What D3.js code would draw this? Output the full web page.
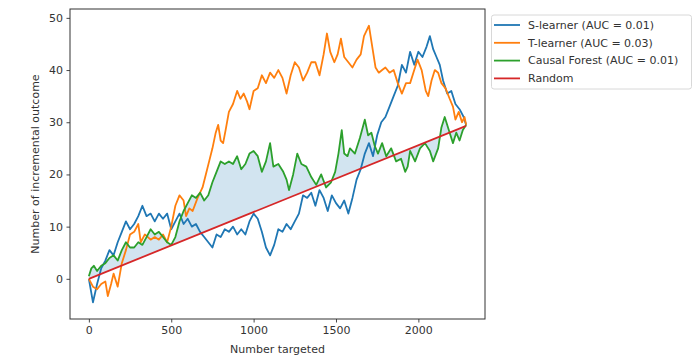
<!DOCTYPE html>
<html><head><meta charset="utf-8">
<script src="https://cdn.jsdelivr.net/npm/d3@7"></script>
<style>
html,body{margin:0;padding:0;background:#fff;}
svg{display:block;font-family:"DejaVu Sans",sans-serif;}
</style></head>
<body>
<svg id="chart" width="697" height="356"></svg>
<script>
// ---- data ----
const seriesNames = ["S-learner (AUC = 0.01)", "T-learner (AUC = 0.03)", "Causal Forest (AUC = 0.01)", "Random"];
const seriesColors = ["#1f77b4", "#ff7f0e", "#2ca02c", "#d62728"];

const sX = [0,25,50,75,100,125,150,175,200,225,250,275,300,325,350,375,400,425,450,475,500,525,550,575,600,625,650,675,700,725,750,775,800,825,850,875,900,925,950,975,1000,1025,1050,1075,1100,1125,1150,1175,1200,1225,1250,1275,1300,1325,1350,1375,1400,1425,1450,1475,1500,1525,1550,1575,1600,1625,1650,1675,1700,1725,1750,1775,1800,1825,1850,1875,1900,1925,1950,1975,2000,2025,2050,2070,2090,2110,2130,2150,2175,2200,2225,2250,2275,2290];
const sY = [0,-4.5,-1,2,3.5,5.5,4.5,7,9,11,9.5,10.5,12,14,12,12.5,11,12.5,11.5,12.5,9.5,11,12.5,10.5,11.5,10,10.5,9,8,7,6,8.5,8,9.5,9,10,8.5,9.5,8.5,11,12.5,11.5,9,6,4.5,6.5,9.5,9,10.5,9.5,11,12.5,16,15.5,16.5,14,17,15.5,13,16,14.5,13.5,15,12.5,15.5,19,21,24,26,23.5,27.5,30,31,33,35,37,41,39.5,43.5,41,43.5,42.5,44.5,46.5,44,42.5,41,38,35.5,36,33.5,32.5,31,29.5];

const tX = [0,25,50,75,100,115,135,150,175,200,225,250,275,300,315,340,375,400,425,450,475,500,525,550,575,590,610,630,660,690,710,730,750,770,785,800,815,830,850,875,900,920,940,960,975,1000,1025,1050,1075,1100,1125,1150,1175,1200,1225,1250,1275,1300,1325,1350,1375,1400,1425,1445,1465,1490,1510,1530,1550,1575,1600,1625,1650,1670,1700,1720,1740,1760,1780,1800,1825,1850,1875,1900,1925,1950,1975,1995,2020,2045,2060,2080,2100,2120,2140,2165,2190,2210,2225,2245,2265,2280,2290];
const tY = [0,-1.5,-2,-1,-0.5,-3.3,-1,1,-1.5,3,5.5,8.5,9,10.5,7,8.5,7.5,8,7.5,8.5,7,10,14,16,15,12,13.5,13,15.5,17.5,20,22.5,25,28,29.5,26.5,26,28.5,32,33.5,36,34.5,35.5,34,32.5,36,36.5,39,37.5,39.5,38.5,40,38.5,35.5,39,41.5,40.5,38,39.5,41.5,41.5,39,43,47,43.5,41.5,43,46,42.5,41.5,40.5,42,43,46.5,48.5,44.5,40.5,39.5,40,40.5,39.5,40,37.5,35.5,37.5,37.5,40,42,40,36,35,38,40,39.5,37.5,36.5,34.5,33,30.5,32,30,31,29.5];

const cfX = [0,15,30,50,75,100,125,150,175,200,225,250,275,300,325,350,375,400,425,450,475,500,525,550,575,600,625,650,675,700,725,750,775,800,825,850,875,900,925,950,975,1000,1025,1050,1075,1100,1120,1150,1180,1200,1215,1240,1265,1290,1320,1350,1380,1410,1440,1470,1495,1515,1535,1550,1570,1585,1615,1645,1675,1695,1715,1735,1755,1780,1805,1835,1865,1895,1920,1935,1950,1980,2010,2040,2070,2090,2120,2140,2160,2190,2210,2230,2250,2270,2290];
const cfY = [0.5,2,2.5,1.5,2.5,3,4,4.5,3.5,5.5,7,6,6,7,6.5,8,9.5,8.5,9,8,7,6.5,8,11,13,14.5,16,15.5,16.5,15,16,18.5,20.5,22.5,22,22.5,22,23.5,21,22,24,24.5,23.5,20.5,22.5,26,21.5,22,20.5,19,17,20,24,22,21.5,19.5,18,20,17.5,18.5,20.5,24,28.5,24,23.5,25,24,27,30.5,27.5,28,25.5,24,26,23.5,25,22.5,23,20.5,21.5,24.5,22.5,25,26,24.5,22.5,25,29,31,28,26,28,26.5,28.5,29.5];

const randX = [0, 2290];
const randY = [0, 29.3];

const xTicks = [0, 500, 1000, 1500, 2000];
const yTicks = [0, 10, 20, 30, 40, 50];
const xLabel = "Number targeted";
const yLabel = "Number of incremental outcome";

// ---- drawing ----
const svg = d3.select("#chart");
const L = 70, R = 485, T = 9, B = 319;
const x = d3.scaleLinear().domain([-114.5, 2404.5]).range([L, R]);
const y = d3.scaleLinear().domain([-7.7, 51.7]).range([B, T]);
const randAt = v => randY[0] + (randY[1]-randY[0]) * (v - randX[0]) / (randX[1]-randX[0]);

const g = svg.append("g");
svg.append("clipPath").attr("id","clip").append("rect")
  .attr("x", L).attr("y", T).attr("width", R-L).attr("height", B-T);
const plot = g.append("g").attr("clip-path","url(#clip)");

// fill between causal forest and random
const cfPts = cfX.map((v,i)=>[v, cfY[i]]);
plot.append("path")
  .attr("d", d3.area().x(d=>x(d[0])).y0(d=>y(randAt(d[0]))).y1(d=>y(d[1]))(cfPts))
  .attr("fill", "#1f77b4").attr("fill-opacity", 0.2).attr("stroke","none");

const line = d3.line().x(d=>x(d[0])).y(d=>y(d[1]));
const allSeries = [
  sX.map((v,i)=>[v, sY[i]]),
  tX.map((v,i)=>[v, tY[i]]),
  cfPts,
  randX.map((v,i)=>[v, randY[i]])
];
allSeries.forEach((pts, k) => {
  plot.append("path").attr("d", line(pts)).attr("fill","none")
    .attr("stroke", seriesColors[k]).attr("stroke-width", 1.8)
    .attr("stroke-linejoin","round");
});

// axes
const xAxis = d3.axisBottom(x).tickValues(xTicks).tickSize(3.5).tickPadding(3.5).tickFormat(d3.format("d"));
const yAxis = d3.axisLeft(y).tickValues(yTicks).tickSize(3.5).tickPadding(3.5).tickFormat(d3.format("d"));
const gx = g.append("g").attr("transform", `translate(0,${B})`).call(xAxis);
const gy = g.append("g").attr("transform", `translate(${L},0)`).call(yAxis);
[gx, gy].forEach(a => {
  a.select(".domain").remove();
  a.selectAll("line").attr("stroke", "#333").attr("stroke-width", 0.9);
  a.selectAll("text").attr("fill", "#333").style("font-size", "11px").style("font-family", "DejaVu Sans");
});

// frame
g.append("rect").attr("x", L).attr("y", T).attr("width", R-L).attr("height", B-T)
  .attr("fill","none").attr("stroke","#333").attr("stroke-width", 1);

// axis labels
g.append("text").attr("x", (L+R)/2).attr("y", 353).attr("text-anchor","middle")
  .attr("fill","#333").style("font-size","11px").text(xLabel);
g.append("text").attr("transform", `translate(39,${(T+B)/2}) rotate(-90)`).attr("text-anchor","middle")
  .attr("fill","#333").style("font-size","11px").text(yLabel);

// legend
const lg = g.append("g");
lg.append("rect").attr("x", 491.5).attr("y", 15).attr("width", 200).attr("height", 74).attr("rx", 2.5)
  .attr("fill","#fff").attr("stroke","#d8d8d8").attr("stroke-width",1);
seriesNames.forEach((name, i) => {
  const yy = 25 + i*17.8;
  lg.append("line").attr("x1", 494).attr("x2", 520).attr("y1", yy).attr("y2", yy)
    .attr("stroke", seriesColors[i]).attr("stroke-width", 1.8);
  lg.append("text").attr("x", 528).attr("y", yy).attr("dy","0.35em")
    .attr("fill","#333").style("font-size","11px").text(name);
});
</script>
</body></html>
